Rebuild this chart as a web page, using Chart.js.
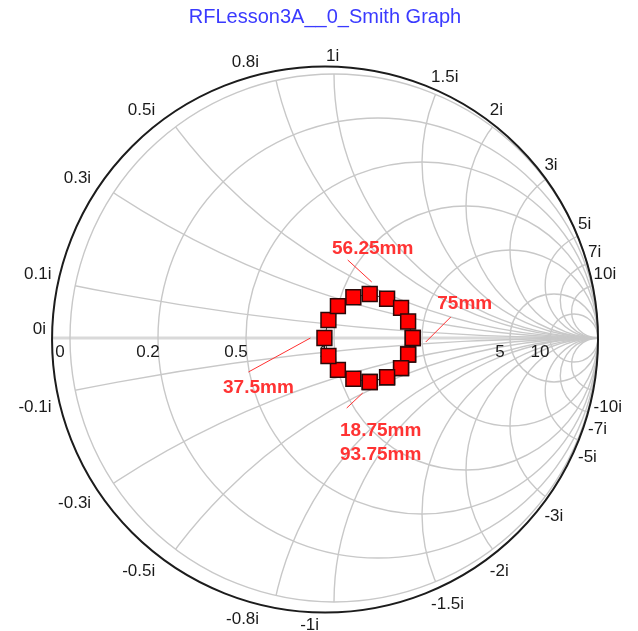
<!DOCTYPE html>
<html>
<head>
<meta charset="utf-8">
<script src="https://cdn.jsdelivr.net/npm/chart.js@4/dist/chart.umd.min.js"></script>
<style>
  html, body { margin: 0; padding: 0; background: #ffffff; }
  #wrap { width: 638px; height: 631px; }
</style>
</head>
<body>
<div id="wrap"><canvas id="smith" width="638" height="631"></canvas></div>
<script>
const chartTitle = 'RFLesson3A__0_Smith Graph';

// Position along the line (mm) and normalised impedance z = r + jx at each step
const positionMm = [0, 4.6875, 9.375, 14.0625, 18.75, 23.4375, 28.125, 32.8125, 37.5, 42.1875,
                    46.875, 51.5625, 56.25, 60.9375, 65.625, 70.3125, 75, 79.6875, 84.375, 89.0625, 93.75];
const resistance = [1.85, 1.76, 1.62, 1.42, 1.23, 1.10, 1.00, 0.95, 0.93, 0.95,
                    1.00, 1.10, 1.23, 1.42, 1.62, 1.76, 1.85, 1.76, 1.62, 1.42, 1.23];
const reactance  = [0, -0.24, -0.40, -0.45, -0.43, -0.35, -0.245, -0.13, 0, 0.13,
                    0.245, 0.35, 0.43, 0.45, 0.40, 0.24, 0, -0.24, -0.40, -0.45, -0.43];

// Grid values
const resistanceTicks = [0, 0.2, 0.5, 1, 2, 5, 10];
const reactanceTicks  = [0.1, 0.3, 0.5, 0.8, 1, 1.5, 2, 3, 5, 7, 10];
const reactanceLabelTicks = [0, 0.1, 0.3, 0.5, 0.8, 1, 1.5, 2, 3, 5, 7, 10,
                             -0.1, -0.3, -0.5, -0.8, -1, -1.5, -2, -3, -5, -7, -10];

// Positions (mm) that get a callout; coinciding positions share one callout
const calloutGroups = [[56.25], [75], [37.5], [18.75, 93.75]];

// z -> reflection coefficient
function gamma(r, x) {
  const d = (r + 1) * (r + 1) + x * x;
  return { x: (r * r - 1 + x * x) / d, y: (2 * x) / d };
}
const points = resistance.map((r, i) => gamma(r, reactance[i]));

// Canvas layout: unit circle centre and radius in pixels
const W = 638, H = 631, CX = 334, CY = 338, UNIT = 264;

const smithGrid = {
  id: 'smithGrid',
  beforeDatasetsDraw(chart) {
    const { ctx, scales: { x: xs, y: ys } } = chart;
    const px = v => xs.getPixelForValue(v);
    const py = v => ys.getPixelForValue(v);
    const u = px(1) - px(0);
    const ox = px(0), oy = py(0);

    ctx.save();
    const fr = chart.options.plugins.smithGrid.frame;
    const fcx = px(fr.cx), fcy = py(fr.cy), fR = fr.r * u;
    // real axis
    ctx.strokeStyle = '#d9d9d9';
    ctx.lineWidth = 3;
    ctx.beginPath();
    ctx.moveTo(fcx - fR + 1, oy);
    ctx.lineTo(ox + u, oy);
    ctx.stroke();

    ctx.strokeStyle = '#c8c8c8';
    ctx.lineWidth = 1.4;
    // constant resistance circles
    resistanceTicks.forEach(r => {
      ctx.beginPath();
      ctx.arc(px(r / (1 + r)), oy, u / (1 + r), 0, Math.PI * 2);
      ctx.stroke();
    });
    // constant reactance arcs, kept inside the unit circle
    ctx.save();
    ctx.beginPath();
    ctx.arc(ox, oy, u, 0, Math.PI * 2);
    ctx.clip();
    reactanceTicks.forEach(xv => {
      [xv, -xv].forEach(v => {
        ctx.beginPath();
        ctx.arc(px(1), py(1 / v), u / Math.abs(v), 0, Math.PI * 2);
        ctx.stroke();
      });
    });
    ctx.restore();

    // outer frame
    ctx.strokeStyle = '#1c1c1c';
    ctx.lineWidth = 2;
    ctx.beginPath();
    ctx.arc(fcx, fcy, fR, 0, Math.PI * 2);
    ctx.stroke();

    // reactance labels around the frame
    ctx.fillStyle = '#1a1a1a';
    ctx.font = '17px "Liberation Sans", Arial, sans-serif';
    reactanceLabelTicks.forEach(v => {
      const g = gamma(0, v);
      const th = Math.atan2(g.y, g.x);
      const bx = fcx + fR * Math.cos(th);
      const by = fcy - fR * Math.sin(th);
      const leftSide = g.x < -1e-9 || (Math.abs(g.x) < 1e-9 && v < 0);
      ctx.textAlign = leftSide ? 'right' : 'left';
      ctx.textBaseline = 'alphabetic';
      const tx = leftSide ? bx - 6 : bx + 1;
      const ty = v >= 0 ? by - 6 : by + 18;
      ctx.fillText(v + 'i', tx, ty);
    });

    // resistance labels under the real axis
    ctx.textAlign = 'center';
    ctx.textBaseline = 'top';
    resistanceTicks.forEach(r => {
      const gx = (r - 1) / (r + 1);
      ctx.fillText(String(r), px(gx) - 10, oy + 6);
    });
    ctx.restore();
  },
  afterDraw(chart) {
    const { ctx } = chart;
    ctx.save();
    ctx.fillStyle = '#3a3aff';
    ctx.font = '20px "Liberation Sans", Arial, sans-serif';
    ctx.textAlign = 'center';
    ctx.textBaseline = 'middle';
    ctx.fillText(chartTitle, 325, 17);
    ctx.restore();
  }
};

const callouts = {
  id: 'callouts',
  afterDatasetsDraw(chart, args, opts) {
    const { ctx } = chart;
    const meta = chart.getDatasetMeta(0);
    ctx.save();
    ctx.strokeStyle = '#ff3030';
    ctx.fillStyle = '#ff3333';
    ctx.lineWidth = 1;
    ctx.font = 'bold 19px "Liberation Sans", Arial, sans-serif';
    ctx.textAlign = 'center';
    ctx.textBaseline = 'middle';
    calloutGroups.forEach((group, gi) => {
      const idx = positionMm.indexOf(group[0]);
      const el = meta.data[idx];
      const lay = opts.layout[gi];
      ctx.beginPath();
      ctx.moveTo(el.x + lay.near[0], el.y + lay.near[1]);
      ctx.lineTo(el.x + lay.far[0], el.y + lay.far[1]);
      ctx.stroke();
      group.forEach((mm, li) => {
        ctx.fillText(mm + 'mm', el.x + lay.text[0], el.y + lay.text[1] + li * 24);
      });
    });
    ctx.restore();
  }
};

new Chart(document.getElementById('smith'), {
  type: 'scatter',
  data: {
    datasets: [{
      label: 'z',
      data: points,
      showLine: true,
      borderColor: '#3a3a3a',
      borderWidth: 1,
      pointStyle: 'rect',
      pointRadius: 10.5,
      pointHoverRadius: 10.5,
      pointBackgroundColor: '#ff0000',
      pointBorderColor: '#2a0808',
      pointBorderWidth: 1.5
    }]
  },
  options: {
    responsive: false,
    animation: false,
    devicePixelRatio: 1,
    layout: { padding: 0, autoPadding: false },
    scales: {
      x: { type: 'linear', display: false, min: -CX / UNIT, max: (W - CX) / UNIT },
      y: { type: 'linear', display: false, min: -(H - CY) / UNIT, max: CY / UNIT }
    },
    plugins: {
      legend: { display: false },
      title: { display: false },
      tooltip: { enabled: false },
      smithGrid: { frame: { cx: -0.034, cy: -0.0057, r: 1.034 } },
      callouts: {
        layout: [
          { near: [2, -12], far: [-22, -34], text: [3, -45] },
          { near: [13, 4], far: [38, -21], text: [52, -34] },
          { near: [-14, 0], far: [-76, 34], text: [-66, 50] },
          { near: [-7, 11], far: [-23, 26], text: [11, 49] }
        ]
      }
    }
  },
  plugins: [smithGrid, callouts]
});
</script>
</body>
</html>
